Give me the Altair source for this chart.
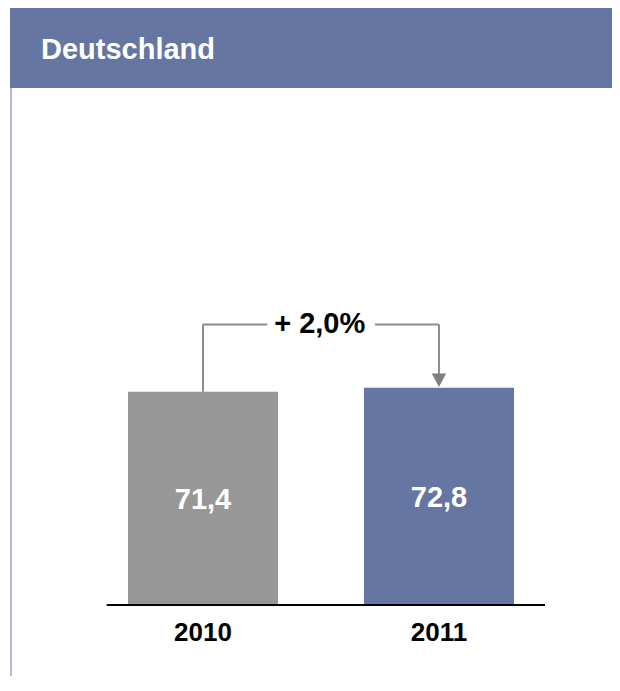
import altair as alt
import pandas as pd

# ---- data ----
years = ["2010", "2011"]
values = [71.4, 72.8]
value_labels = ["71,4", "72,8"]
change_label = "+ 2,0%"
title_text = "Deutschland"

BLUE = "#6576A3"
GRAY = "#979797"
LINE = "#8C8C8C"
FONT = "Liberation Sans"
BRACKET_Y = 94.0   # level of bracket in data units
ARROW_Y = 75.3     # centre of arrow head in data units

W, H = 604, 668

df = pd.DataFrame({"year": years, "value": values, "label": value_labels})
base = alt.Chart(df).transform_calculate(
    mid="datum.value / 2", b=str(BRACKET_Y), a=str(ARROW_Y), a1=str(ARROW_Y + 1), zero="0")
one = alt.Data(values=[{"t": title_text, "c": change_label, "zero": 0, "b": BRACKET_Y}])

xscale = alt.Scale(domain=years, range=[120, 506], paddingInner=0.364, paddingOuter=0)
yscale = alt.Scale(domain=[0, 100], range=[597, 298.5], nice=False, zero=True)
X = alt.X("year:N", scale=xscale, axis=None)


def Y(f):
    return alt.Y(f, scale=yscale, axis=None)


header = alt.Chart(one).mark_rect(color=BLUE).encode(
    x=alt.value(2), x2=alt.value(W), y=alt.value(0), y2=alt.value(80))
border = alt.Chart(one).mark_rule(color="#98A4C8", strokeWidth=1.5).encode(
    x=alt.value(3), y=alt.value(80), y2=alt.value(H))
title = alt.Chart(one).mark_text(
    align="left", baseline="alphabetic", font=FONT, fontWeight="bold",
    fontSize=29, color="white").encode(
    x=alt.value(33), y=alt.value(50.5), text="t:N")

bars = base.mark_bar().encode(
    x=X,
    y=Y("value:Q"),
    color=alt.Color("year:N", scale=alt.Scale(domain=years, range=[GRAY, BLUE]), legend=None),
)

vlabels = base.mark_text(
    font=FONT, fontWeight="bold", fontSize=29, color="white", baseline="middle", dy=1.5
).encode(x=X, y=Y("mid:Q"), text="label:N")

ylabels = base.mark_text(
    font=FONT, fontWeight="bold", fontSize=26, color="black", baseline="alphabetic"
).encode(x=X, y=alt.value(632.7), text="year:N")

baseline = alt.Chart(one).mark_rule(color="black", strokeWidth=2).encode(
    x=alt.value(98.7), x2=alt.value(537), y=Y("zero:Q"))

left_v = base.transform_filter(alt.datum.year == "2010").mark_rule(
    color=LINE, strokeWidth=2).encode(x=X, y=Y("value:Q"), y2="b:Q")
left_h = base.transform_filter(alt.datum.year == "2010").mark_rule(
    color=LINE, strokeWidth=2).encode(x=X, x2=alt.value(259.3), y=Y("b:Q"))
right_h = base.transform_filter(alt.datum.year == "2011").mark_rule(
    color=LINE, strokeWidth=2).encode(x=X, x2=alt.value(367), y=Y("b:Q"))
right_v = base.transform_filter(alt.datum.year == "2011").mark_rule(
    color=LINE, strokeWidth=2).encode(x=X, y=Y("b:Q"), y2="a1:Q")
arrow = base.transform_filter(alt.datum.year == "2011").mark_point(
    shape="M-1,-0.93L1,-0.93L0,0.93Z", filled=True, size=207, color="#7F7F7F", opacity=1
).encode(x=X, y=Y("a:Q"))
change = alt.Chart(one).mark_text(
    font=FONT, fontWeight="bold", fontSize=29, color="black", baseline="middle", align="center"
).encode(x=alt.value(311.7), y=Y("b:Q"), text="c:N")

chart = alt.layer(
    header, border, title, bars, vlabels, ylabels, baseline,
    left_v, left_h, right_h, right_v, arrow, change
).properties(
    width=W, height=H, padding=0,
    autosize=alt.AutoSizeParams(type="none"),
).configure_view(stroke=None)

chart.save("out.html", embed_options={"renderer": "svg", "actions": False})
